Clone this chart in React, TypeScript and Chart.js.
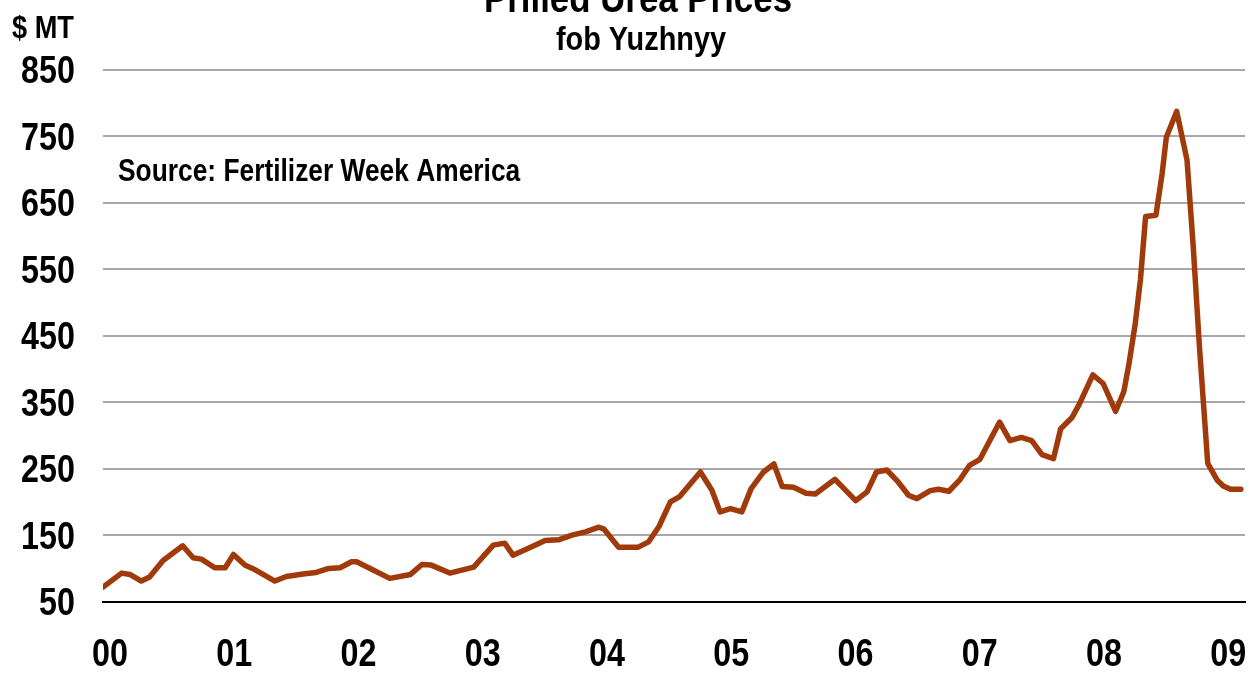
import React, { useEffect, useRef } from 'react';
import { Chart, registerables } from 'chart.js';

Chart.register(...registerables);

// Months elapsed since January 2000 and price in $ per metric tonne
const monthsSinceJan2000 = [
  0.0, 1.8, 2.6, 3.7, 4.5, 5.8, 7.7, 8.7, 9.5, 10.8, 11.8, 12.6, 13.7, 14.7, 16.6, 17.7, 19.5, 20.6,
  21.8, 22.9, 24.0, 24.5, 25.8, 27.7, 29.7, 30.8, 31.7, 33.5, 35.8, 37.7, 38.8, 39.6, 41.3, 42.7,
  44.0, 45.3, 46.6, 47.9, 48.4, 49.8, 51.7, 52.7, 53.7, 54.8, 55.7, 57.7, 58.8, 59.6, 60.6, 61.7,
  62.6, 63.8, 64.8, 65.6, 66.7, 67.9, 68.8, 70.7, 72.7, 73.8, 74.7, 75.7, 76.8, 77.8, 78.6, 79.9,
  80.7, 81.7, 82.8, 83.7, 84.7, 86.6, 87.6, 88.7, 89.7, 90.7, 91.8, 92.5, 93.6, 94.3, 95.6, 96.6,
  97.8, 98.6, 99.1, 99.7, 100.2, 100.7, 101.7, 102.3, 102.7, 103.7, 104.7, 105.3, 105.9, 106.7,
  107.6, 108.2, 108.9, 109.9,
];
const pricePerTonne = [
  72, 93, 91, 81, 87, 112, 134, 116, 114, 101, 101, 121, 105, 98, 81, 88, 92, 94,
  100, 101, 110, 110, 100, 85, 91, 106, 105, 93, 102, 135, 138, 120, 132, 142,
  143, 150, 155, 162, 159, 132, 132, 140, 163, 200, 208, 245, 218, 185, 190, 185,
  220, 245, 257, 223, 222, 213, 212, 234, 202, 215, 245, 248, 230, 210, 205, 217,
  219, 216, 234, 255, 264, 320, 292, 297, 292, 271, 265, 310, 327, 347, 391, 378,
  336, 366, 408, 468, 534, 629, 631, 694, 748, 787, 714, 584, 433, 258,
  233, 224, 219, 219,
];
const yearLabels = ['00', '01', '02', '03', '04', '05', '06', '07', '08', '09'];
const yTickValues = [50, 150, 250, 350, 450, 550, 650, 750, 850];

const titleText = 'Prilled Urea Prices';
const subtitleText = 'fob Yuzhnyy';
const unitText = '$ MT';
const sourceText = 'Source: Fertilizer Week America';

const FONT = "'Liberation Sans', Arial, sans-serif";
const NARROW = 0.85; // horizontal squeeze to mimic a narrow bold face
const LINE_COLOR = '#A03A0A';
const GRID_COLOR = '#a8a8a8';

function drawNarrow(ctx: CanvasRenderingContext2D, text: string, x: number, y: number, size: number,
  align: CanvasTextAlign, baseline: CanvasTextBaseline) {
  ctx.save();
  ctx.font = `bold ${size}px ${FONT}`;
  ctx.textAlign = align;
  ctx.textBaseline = baseline;
  ctx.fillStyle = '#000';
  ctx.translate(x, y);
  ctx.scale(NARROW, 1);
  ctx.fillText(text, 0, 0);
  ctx.restore();
}

const textPlugin = {
  id: 'chartTexts',
  afterDraw(chart: any) {
    const { ctx, chartArea, scales } = chart;
    // axis tick labels, positioned by the library's scales
    scales.y.ticks.forEach((t: any) => {
      drawNarrow(ctx, String(t.value), chartArea.left - 28, scales.y.getPixelForValue(t.value) + 3, 38, 'right', 'middle');
    });
    scales.x.ticks.forEach((t: any, i: number) => {
      drawNarrow(ctx, yearLabels[i], scales.x.getPixelForValue(t.value), chartArea.bottom + 54, 38, 'center', 'middle');
    });
    // titles and notes
    const cx = (chartArea.left + chartArea.right) / 2 - 36;
    drawNarrow(ctx, titleText, cx, 12, 41, 'center', 'alphabetic');
    drawNarrow(ctx, subtitleText, cx + 3, 50, 34, 'center', 'alphabetic');
    drawNarrow(ctx, unitText, 12, 38, 32, 'left', 'alphabetic');
    drawNarrow(ctx, sourceText, chartArea.left + 15, 181, 31, 'left', 'alphabetic');
  },
};

export default function App() {
  const canvasRef = useRef<HTMLCanvasElement | null>(null);

  useEffect(() => {
    if (!canvasRef.current) return;
    const points = monthsSinceJan2000.map((m, i) => ({ x: m, y: pricePerTonne[i] }));
    const chart = new Chart(canvasRef.current, {
      type: 'line',
      data: {
        datasets: [
          {
            label: 'Prilled urea, fob Yuzhnyy',
            data: points,
            borderColor: LINE_COLOR,
            backgroundColor: LINE_COLOR,
            borderWidth: 5.5,
            pointRadius: 0,
            tension: 0,
            borderJoinStyle: 'round',
            borderCapStyle: 'round',
            fill: false,
          },
        ],
      },
      options: {
        animation: false,
        responsive: true,
        maintainAspectRatio: false,
        layout: { padding: { top: 69.5, right: 9, left: 0, bottom: 0 } },
        plugins: {
          legend: { display: false },
          tooltip: { enabled: false },
          title: { display: false },
        },
        scales: {
          x: {
            type: 'linear',
            min: 0,
            max: 110.3,
            afterBuildTicks: (scale: any) => {
              scale.ticks = yearLabels.map((_, i) => ({ value: i * 12 + 0.68 }));
            },
            afterFit: (scale: any) => {
              scale.height = 72.3;
              scale.paddingLeft = 0;
              scale.paddingRight = 0;
            },
            grid: { display: false, drawTicks: false },
            border: { display: true, color: '#000', width: 2 },
            ticks: { display: false, autoSkip: false, maxRotation: 0 },
          },
          y: {
            type: 'linear',
            min: 50,
            max: 850,
            afterBuildTicks: (scale: any) => {
              scale.ticks = yTickValues.map((v) => ({ value: v }));
            },
            afterFit: (scale: any) => {
              scale.width = 103;
              scale.paddingTop = 0;
              scale.paddingBottom = 0;
            },
            grid: {
              drawTicks: false,
              lineWidth: 2,
              color: (c: any) => (c.tick && c.tick.value === 50 ? '#000' : GRID_COLOR),
            },
            border: { display: false },
            ticks: { display: false },
          },
        },
      },
      plugins: [textPlugin],
    });
    return () => chart.destroy();
  }, []);

  return (
    <div style={{ position: 'fixed', left: 0, top: 0, width: 1254, height: 674, background: '#fff' }}>
      <canvas ref={canvasRef} />
    </div>
  );
}
